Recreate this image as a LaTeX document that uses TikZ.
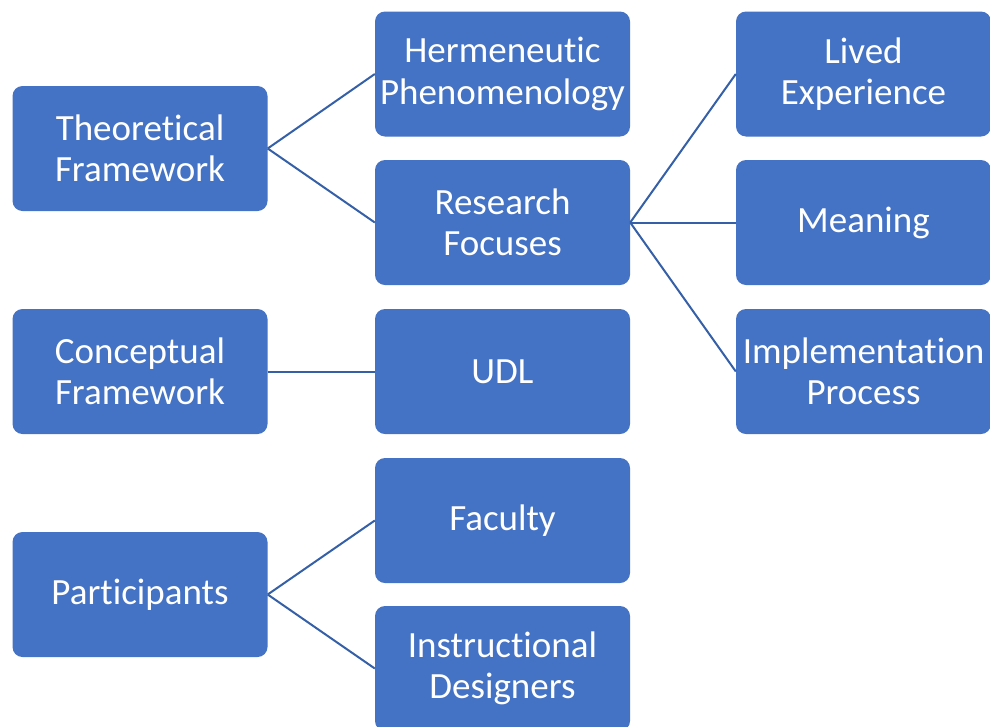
\documentclass[tikz,border=0pt]{standalone}
\usepackage{fontspec}
\setmainfont{Carlito}[Ligatures=NoCommon]
\definecolor{boxblue}{HTML}{4472C4}
\definecolor{linkblue}{HTML}{3560A8}
\begin{document}
\begin{tikzpicture}[x=1pt,y=-1pt,
  box/.style={fill=boxblue, rounded corners=10pt, minimum width=255pt,
    minimum height=125pt, text=white, align=center, inner sep=0pt,
    font=\fontsize{37}{41.5}\selectfont},
  link/.style={draw=linkblue, line width=2pt}]
\useasboundingbox (0,0) rectangle (990,726);
\clip (0,0) rectangle (990,726);

% first column
\node[box] (theo) at (140,148.5) {Theoretical\\Framework};
\node[box] (conc) at (140,371.5) {Conceptual\\Framework};
\node[box] (part) at (140,594.5) {Participants};

% second column
\node[box] (herm) at (502.5,74) {Hermeneutic\\Phenomenology};
\node[box] (focus) at (502.5,222.5) {Research\\Focuses};
\node[box] (udl) at (502.5,371.5) {UDL};
\node[box] (fac) at (502.5,520.5) {Faculty};
\node[box] (instr) at (502.5,668.5) {Instructional\\Designers};

% third column
\node[box] (lived) at (863.5,74) {Lived\\Experience};
\node[box] (mean) at (863.5,222.5) {Meaning};
\node[box] (impl) at (863.5,371.5) {Implementation\\Process};

% connectors
\draw[link] (theo.east) -- (herm.west);
\draw[link] (theo.east) -- (focus.west);
\draw[link] (conc.east) -- (udl.west);
\draw[link] (part.east) -- (fac.west);
\draw[link] (part.east) -- (instr.west);
\draw[link] (focus.east) -- (lived.west);
\draw[link] (focus.east) -- (mean.west);
\draw[link] (focus.east) -- (impl.west);
\end{tikzpicture}
\end{document}
